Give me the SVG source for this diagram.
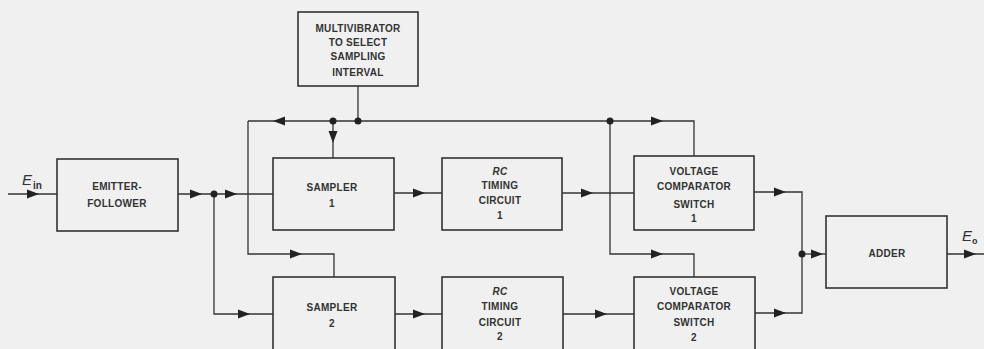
<svg xmlns="http://www.w3.org/2000/svg" width="984" height="349" viewBox="0 0 984 349">
<style>
.bx{fill:none;stroke:#333;stroke-width:1.6}
.ln{fill:none;stroke:#333;stroke-width:1.3}
.t{font-family:"Liberation Sans",Arial,sans-serif;font-weight:bold;font-size:10px;letter-spacing:0.3px;fill:#333;text-anchor:middle}
.i{font-style:italic}
.ah{fill:#222}
.dot{fill:#222}
</style>
<defs>
<path id="ah" d="M0,0 L-12,-4.5 L-12,4.5 Z" class="ah"/>
</defs>
<rect width="984" height="349" fill="#f0f0f0"/>

<g id="multivibrator">
<rect class="bx" x="298" y="12" width="120" height="74"/>
<text class="t" x="358" y="32">MULTIVIBRATOR</text>
<text class="t" x="358" y="46">TO SELECT</text>
<text class="t" x="358" y="60">SAMPLING</text>
<text class="t" x="358" y="76">INTERVAL</text>
</g>
<g id="emitter-follower">
<rect class="bx" x="57" y="159" width="121" height="72"/>
<text class="t" x="117" y="190">EMITTER-</text>
<text class="t" x="117" y="207">FOLLOWER</text>
</g>
<g id="sampler1">
<rect class="bx" x="273" y="158" width="121" height="72"/>
<text class="t" x="332" y="191">SAMPLER</text>
<text class="t" x="332" y="207">1</text>
</g>
<g id="sampler2">
<rect class="bx" x="273" y="277" width="122" height="80"/>
<text class="t" x="332" y="311">SAMPLER</text>
<text class="t" x="332" y="327">2</text>
</g>
<g id="rc1">
<rect class="bx" x="442" y="158" width="120" height="72"/>
<text class="t i" x="500" y="175">RC</text>
<text class="t" x="500" y="189">TIMING</text>
<text class="t" x="500" y="204">CIRCUIT</text>
<text class="t" x="500" y="219">1</text>
</g>
<g id="rc2">
<rect class="bx" x="442" y="277" width="121" height="80"/>
<text class="t i" x="500" y="295">RC</text>
<text class="t" x="500" y="310">TIMING</text>
<text class="t" x="500" y="326">CIRCUIT</text>
<text class="t" x="500" y="340">2</text>
</g>
<g id="vc1">
<rect class="bx" x="634" y="156" width="120" height="74"/>
<text class="t" x="694" y="175">VOLTAGE</text>
<text class="t" x="694" y="190">COMPARATOR</text>
<text class="t" x="694" y="208">SWITCH</text>
<text class="t" x="694" y="222">1</text>
</g>
<g id="vc2">
<rect class="bx" x="634" y="277" width="121" height="80"/>
<text class="t" x="694" y="295">VOLTAGE</text>
<text class="t" x="694" y="310">COMPARATOR</text>
<text class="t" x="694" y="326">SWITCH</text>
<text class="t" x="694" y="341">2</text>
</g>
<g id="adder">
<rect class="bx" x="826" y="216" width="121" height="72"/>
<text class="t" x="887" y="257">ADDER</text>
</g>

<g id="labels" font-family="Liberation Sans,Arial,sans-serif" fill="#333" font-weight="bold">
<text x="22" y="185" font-size="15" font-style="italic" font-weight="normal">E</text>
<text x="33" y="189" font-size="10">in</text>
<text x="962" y="241" font-size="15" font-style="italic" font-weight="normal">E</text>
<text x="972" y="244" font-size="9">o</text>
</g>

<g id="connectors">
<path class="ln" d="M8 194 H57"/>
<path class="ln" d="M178 194 H273"/>
<path class="ln" d="M214 194 V314 H273"/>
<path class="ln" d="M358 86 V121"/>
<path class="ln" d="M248 121 H694 V156"/>
<path class="ln" d="M248 121 V254 H334 V277"/>
<path class="ln" d="M333 121 V158"/>
<path class="ln" d="M610 121 V254 H694 V277"/>
<path class="ln" d="M394 193 H442"/>
<path class="ln" d="M395 314 H442"/>
<path class="ln" d="M562 193 H634"/>
<path class="ln" d="M563 314 H634"/>
<path class="ln" d="M754 192 H802 V313 H755"/>
<path class="ln" d="M802 254 H826"/>
<path class="ln" d="M947 254 H984"/>
<circle class="dot" cx="214" cy="194" r="3.5"/>
<circle class="dot" cx="333" cy="121" r="3.5"/>
<circle class="dot" cx="358" cy="121" r="3.5"/>
<circle class="dot" cx="610" cy="121" r="3.5"/>
<circle class="dot" cx="802" cy="254" r="3.5"/>
<use href="#ah" x="39" y="194"/>
<use href="#ah" x="202" y="194"/>
<use href="#ah" x="237" y="194"/>
<use href="#ah" x="250" y="314"/>
<use href="#ah" transform="translate(273,121) rotate(180)"/>
<use href="#ah" transform="translate(333,143) rotate(90)"/>
<use href="#ah" x="302" y="254"/>
<use href="#ah" x="425" y="193"/>
<use href="#ah" x="425" y="314"/>
<use href="#ah" x="593" y="193"/>
<use href="#ah" x="607" y="314"/>
<use href="#ah" x="663" y="121"/>
<use href="#ah" x="663" y="254"/>
<use href="#ah" x="786" y="192"/>
<use href="#ah" x="786" y="313"/>
<use href="#ah" x="823" y="254"/>
<use href="#ah" x="976" y="254"/>
</g>
</svg>
